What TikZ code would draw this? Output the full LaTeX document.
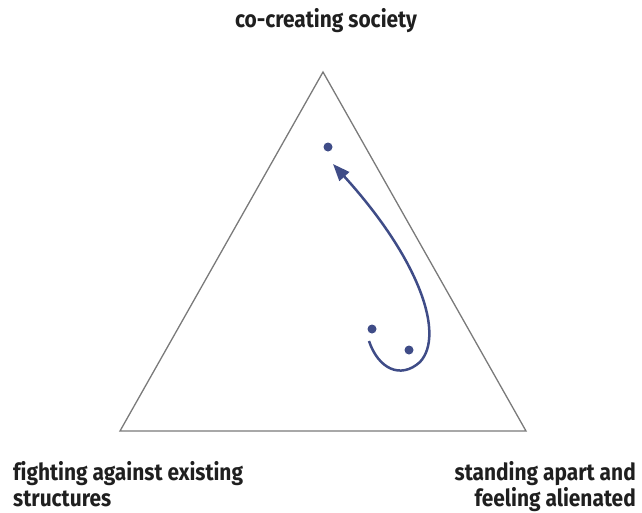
\documentclass[tikz,border=0pt]{standalone}
\usepackage{fontspec}
\setmainfont{Fira Sans}[BoldFont={* Bold}]
\newfontfamily\labelfont{Fira Sans}[UprightFont={* Bold},FakeStretch=0.89,Ligatures=NoCommon]
\usetikzlibrary{arrows.meta}
\definecolor{pathblue}{HTML}{3F4C87}
\definecolor{edgegray}{HTML}{7A7A7A}
\tikzset{
  corner/.style={font=\labelfont\fontsize{23.5}{26}\selectfont, text=black!88, inner sep=0pt},
  pt/.style={circle, fill=pathblue, minimum size=9pt, inner sep=0pt},
  side/.style={draw=edgegray, line width=1.3pt},
  move/.style={draw=pathblue, line width=2.5pt, -{Triangle[length=17pt,width=13pt]}}
}
\begin{document}
\begin{tikzpicture}[x=1pt,y=-1pt]
\useasboundingbox (0,0) rectangle (642,512);
\coordinate (A) at (323,72);
\coordinate (B) at (120,431);
\coordinate (C) at (526,431);
\draw[side] (A) -- (B) -- (C) -- cycle;
\node[pt] (d1) at (328,147) {};
\node[pt] (d2) at (372,329) {};
\node[pt] (d3) at (409,350) {};
\coordinate (s) at (369,341);
\coordinate (t) at (333,164);
\draw[move] (s) .. controls (378,368) and (400,380) .. (420,362)
  .. controls (445,335) and (420,260) .. (t);
\node[corner, anchor=base] (top) at (326,27) {co-creating society};
\node[corner, anchor=base west, align=left] (left) at (13,506) {fighting against existing\\structures};
\node[corner, anchor=base east, align=right] (right) at (636,506) {standing apart and\\feeling alienated};
\end{tikzpicture}
\end{document}
